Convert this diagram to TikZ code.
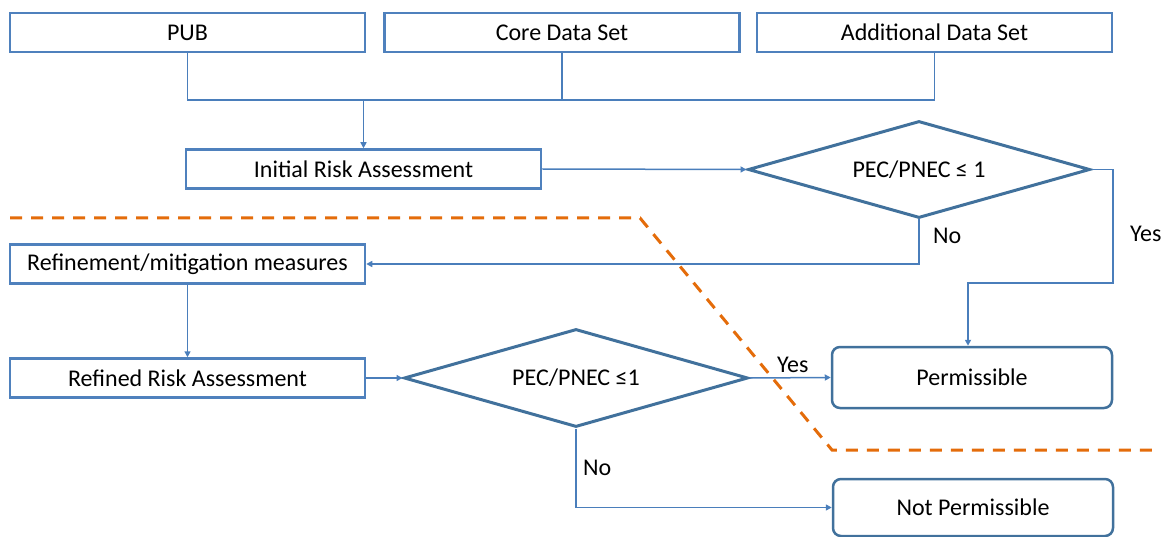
\documentclass[tikz,border=0pt]{standalone}
\usepackage{fontspec}
\setmainfont{Carlito}
\usetikzlibrary{shapes.geometric,arrows.meta}
\definecolor{boxblue}{HTML}{4F81BD}
\definecolor{darkblue}{HTML}{41719C}
\definecolor{lineblue}{HTML}{4A7EBB}
\definecolor{dashorange}{HTML}{E46C0A}
\begin{document}
\begin{tikzpicture}[x=1pt,y=-1pt,
  font=\fontsize{24}{28}\selectfont,
  box/.style={draw=boxblue,line width=2.5pt,minimum width=355pt,minimum height=39pt,inner sep=0pt},
  rbox/.style={draw=darkblue,line width=2.5pt,rounded corners=8pt,minimum width=280pt,inner sep=0pt},
  dia/.style={draw=darkblue,line width=3pt,diamond,aspect=3.5,inner sep=0pt},
  conn/.style={draw=lineblue,line width=1.5pt},
  arr/.style={-{Triangle[length=6pt,width=6pt]}},
  lbl/.style={anchor=west,inner sep=0pt}]
\useasboundingbox (0,0) rectangle (1164,537);
% boxes
\node[box] (pub) at (187.5,32.5) {PUB};
\node[box] (core) at (562,32.5) {Core Data Set};
\node[box] (add) at (934.5,32.5) {Additional Data Set};
\node[box] (init) at (363.5,169) {Initial Risk Assessment};
\node[box] (refm) at (187.5,264) {Refinement/mitigation measures};
\node[box] (refr) at (187.5,378) {Refined Risk Assessment};
\node[dia,minimum width=342pt,minimum height=97pt] (d1) at (919,169.5) {PEC/PNEC ≤ 1};
\node[dia,minimum width=344pt,minimum height=98pt] (d2) at (576,378) {PEC/PNEC ≤1};
\node[rbox,minimum height=61pt] (perm) at (972,377.5) {Permissible};
\node[rbox,minimum height=57pt] (notp) at (973,507.5) {Not Permissible};
% junctions
\coordinate (j) at (363.5,100);
\coordinate (yr) at (1113,283);
\draw[conn] (pub.south) -- (pub.south |- j) -- (add.south |- j) -- (add.south);
\draw[conn] (core.south) -- (core.south |- j);
\draw[conn,arr] (j) -- (init.north);
\draw[conn,arr] (init.east) -- (d1.west);
\draw[conn,arr] (d1.east) -| (yr) -| ([xshift=-4pt]perm.north);
\draw[conn,arr] (d1.south) |- (refm.east);
\draw[conn,arr] (refm.south) -- (refr.north);
\draw[conn,arr] (refr.east) -- (d2.west);
\draw[conn,arr] (d2.east) -- (perm.west);
\draw[conn,arr] (d2.south) |- (notp.west);
% labels
\node[lbl] (no1) at (933,236) {No};
\node[lbl] (yes1) at (1130,234) {Yes};
\node[lbl] (yes2) at (777,365) {Yes};
\node[lbl] (no2) at (583,468) {No};
% dashed boundary
\draw[dashorange,line width=3pt,dash pattern=on 12pt off 9pt] (10,218) -- (640,218) -- (832,450) -- (1155,450);
\end{tikzpicture}
\end{document}
